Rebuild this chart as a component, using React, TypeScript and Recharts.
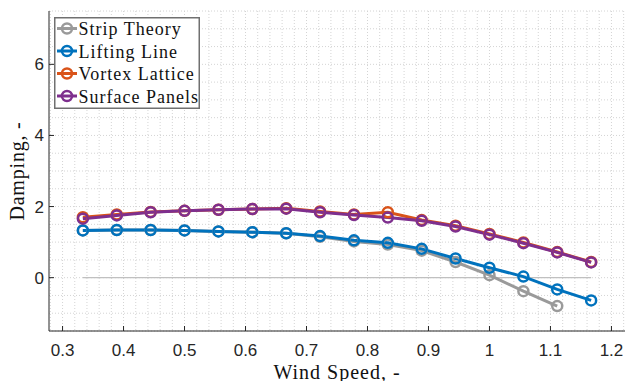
import { LineChart, Line, XAxis, YAxis, CartesianGrid, Legend, Label } from 'recharts';

// Damping vs. wind speed for four aerodynamic models
const windSpeed = [
  0.3333, 0.3889, 0.4444, 0.5, 0.5556, 0.6111, 0.6667, 0.7222, 0.7778, 0.8333, 0.8889, 0.9444, 1.0,
  1.0556, 1.1111, 1.1667,
];
const stripTheory = [
  1.33, 1.34, 1.34, 1.33, 1.3, 1.28, 1.25, 1.15, 1.02, 0.93, 0.76, 0.44, 0.07, -0.38, -0.8, null,
];
const liftingLine = [
  1.33, 1.34, 1.34, 1.33, 1.3, 1.28, 1.25, 1.17, 1.05, 0.98, 0.81, 0.54, 0.28, 0.03, -0.33, -0.64,
];
const vortexLattice = [
  1.7, 1.78, 1.85, 1.88, 1.91, 1.93, 1.95, 1.86, 1.78, 1.84, 1.62, 1.46, 1.23, 0.99, 0.72, 0.44,
];
const surfacePanels = [
  1.66, 1.75, 1.84, 1.88, 1.91, 1.93, 1.94, 1.84, 1.76, 1.69, 1.6, 1.44, 1.21, 0.97, 0.71, 0.43,
];
const zeroLine = [0, 0, 0, 0, 0, 0, 0, 0, 0, 0, 0, 0, 0, 0, 0, 0];

const xTicks = [0.3, 0.4, 0.5, 0.6, 0.7, 0.8, 0.9, 1, 1.1, 1.2];
const yTicks = [0, 2, 4, 6];

const series = [
  { key: 'strip', name: 'Strip Theory', color: '#9a9a9a' },
  { key: 'lifting', name: 'Lifting Line', color: '#0072BD' },
  { key: 'vortex', name: 'Vortex Lattice', color: '#D95319' },
  { key: 'surface', name: 'Surface Panels', color: '#7E2F8E' },
];

const data = windSpeed.map((x, i) => ({
  x,
  base: zeroLine[i],
  strip: stripTheory[i],
  lifting: liftingLine[i],
  vortex: vortexLattice[i],
  surface: surfacePanels[i],
}));

// minor grid every 0.02 in x and 0.5 in y
const xGrid = Array.from({ length: 48 }, (_, i) => Math.round((0.28 + i * 0.02) * 100) / 100);
const yGrid = Array.from({ length: 19 }, (_, i) => -1.5 + i * 0.5);

const SANS = '"Liberation Sans", Arial, Helvetica, sans-serif';
const SERIF = '"Liberation Serif", "Times New Roman", serif';
const AXIS = '#262626';

function LegendBox() {
  return (
    <svg width={146} height={92} style={{ display: 'block' }}>
      <rect x={0.75} y={0.75} width={144.5} height={90.5} fill="#fff" stroke="#707070" strokeWidth={1.5} />
      {series.map((s, i) => {
        const cy = 11.5 + i * 22.5;
        return (
          <g key={s.key}>
            <line x1={3} x2={23} y1={cy} y2={cy} stroke={s.color} strokeWidth={3} />
            <circle cx={13} cy={cy} r={5} fill="none" stroke={s.color} strokeWidth={2.5} />
            <text
              x={24.5}
              y={cy + 6.5}
              fontFamily={SERIF}
              fontSize={18}
              letterSpacing={1}
              fill="#111"
            >
              {s.name}
            </text>
          </g>
        );
      })}
    </svg>
  );
}

export default function App() {
  return (
    <div style={{ position: 'absolute', left: 0, top: 0, background: '#fff' }}>
      <LineChart width={626} height={381} data={data} margin={{ top: 11, right: 1, bottom: 0, left: 0 }}>
        <CartesianGrid
          stroke="#d4d4d4"
          strokeDasharray="1 2"
          verticalValues={xGrid}
          horizontalValues={yGrid}
        />
        <XAxis
          type="number"
          dataKey="x"
          domain={[5 / 18, 22 / 18]}
          ticks={xTicks}
          interval={0}
          allowDataOverflow
          height={50}
          tickSize={-5}
          tickMargin={18}
          axisLine={{ stroke: AXIS, strokeWidth: 1 }}
          tickLine={{ stroke: AXIS, strokeWidth: 1 }}
          tick={{ fill: AXIS, fontSize: 17, fontFamily: SANS }}
          tickFormatter={(v: number) => String(v)}
        >
          <Label
            content={(props: any) => {
              const vb = props.viewBox;
              return (
                <text
                  x={vb.x + vb.width / 2}
                  y={vb.y + 47.5}
                  textAnchor="middle"
                  fontFamily={SERIF}
                  fontSize={20}
                  letterSpacing={1}
                  fill="#111"
                >
                  Wind Speed, -
                </text>
              );
            }}
          />
        </XAxis>
        <YAxis
          type="number"
          domain={[-1.5, 7.5]}
          ticks={yTicks}
          interval={0}
          allowDataOverflow
          width={49}
          tickSize={-5}
          tickMargin={10}
          axisLine={{ stroke: AXIS, strokeWidth: 1 }}
          tickLine={{ stroke: AXIS, strokeWidth: 1 }}
          tick={{ fill: AXIS, fontSize: 17, fontFamily: SANS }}
        >
          <Label
            content={(props: any) => {
              const vb = props.viewBox;
              const cx = 23.5;
              const cy = vb.y + vb.height / 2;
              return (
                <text
                  x={cx}
                  y={cy}
                  transform={`rotate(-90, ${cx}, ${cy})`}
                  textAnchor="middle"
                  fontFamily={SERIF}
                  fontSize={20}
                  letterSpacing={0.8}
                  fill="#111"
                >
                  Damping, -
                </text>
              );
            }}
          />
        </YAxis>
        <Legend
          layout="vertical"
          align="center"
          verticalAlign="middle"
          content={() => <LegendBox />}
          wrapperStyle={{ left: 54, top: 17, width: 146, height: 92 }}
        />
        <Line
          dataKey="base"
          stroke="#c0c0c0"
          strokeWidth={1.4}
          dot={false}
          activeDot={false}
          legendType="none"
          isAnimationActive={false}
        />
        {series.map((s) => (
          <Line
            key={s.key}
            dataKey={s.key}
            name={s.name}
            type="linear"
            stroke={s.color}
            strokeWidth={3}
            dot={{ r: 5, strokeWidth: 2.5, fill: 'none', stroke: s.color }}
            activeDot={false}
            isAnimationActive={false}
          />
        ))}
      </LineChart>
    </div>
  );
}
